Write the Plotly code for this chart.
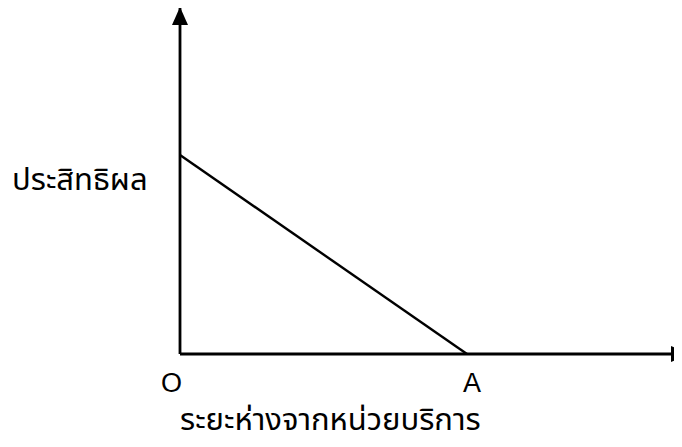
import plotly.graph_objects as go

# effectiveness falls linearly from the origin O to the point A
distance = [0, 1]
effectiveness = [1, 0]
tick_pos = [0, 1]
tick_labels = ["O", "A"]
x_title = "ระยะห่างจากหน่วยบริการ"
y_title = "ประสิทธิผล"

W, H = 682, 447
OFF = 8  # page body margin of the html page
# pixel positions of origin and one unit in the picture
ox, oy = 180 - OFF, 354 - OFF
ux, uy = 287, 199

x_range = [-ox / ux, (W - ox) / ux]
y_range = [-(H - oy) / uy, oy / uy]
x_tip = (689 - OFF - ox) / ux
y_tip = (oy - 7 + OFF) / uy

thai_font = "Noto Sans Thai, Noto Sans, sans-serif"

fig = go.Figure()
fig.add_trace(go.Scatter(x=distance, y=effectiveness, mode="lines",
                         line=dict(color="black", width=2.4), hoverinfo="skip"))

head = "M-8,-18 L8,-18 L0,0 Z"
head_x = "M-18,-8 L-18,8 L0,0 Z"
shapes = [
    dict(type="line", xref="x", yref="y", x0=0, y0=0, x1=x_tip, y1=0,
         line=dict(color="black", width=2.8)),
    dict(type="line", xref="x", yref="y", x0=0, y0=0, x1=0, y1=y_tip,
         line=dict(color="black", width=2.8)),
    dict(type="path", xref="x", yref="y", xsizemode="pixel", ysizemode="pixel",
         xanchor=0, yanchor=y_tip, path=head, fillcolor="black", line_width=0),
    dict(type="path", xref="x", yref="y", xsizemode="pixel", ysizemode="pixel",
         xanchor=x_tip, yanchor=0, path=head_x, fillcolor="black", line_width=0),
]

annotations = []
# O and A labels
for pos, lab, dx in zip(tick_pos, tick_labels, [-9, 5]):
    annotations.append(dict(x=pos, y=0, xref="x", yref="y", text=lab,
                            showarrow=False, yshift=-29, xshift=dx,
                            font=dict(family="Arial, Liberation Sans", size=27, color="black")))
annotations.append(dict(x=(330 - OFF) / W, y=1 - (420 - OFF) / H, xref="paper", yref="paper",
                        xanchor="center", yanchor="middle",
                        text=x_title, showarrow=False,
                        font=dict(family=thai_font, size=31, color="black")))
annotations.append(dict(x=(10 - OFF) / W, y=1 - (180 - OFF) / H, xref="paper", yref="paper",
                        xanchor="left", yanchor="middle", text=y_title, showarrow=False,
                        font=dict(family=thai_font, size=31, color="black")))

fig.update_layout(
    width=W, height=H,
    margin=dict(l=0, r=0, t=0, b=0),
    paper_bgcolor="white", plot_bgcolor="white",
    showlegend=False,
    xaxis=dict(range=x_range, visible=False, fixedrange=True),
    yaxis=dict(range=y_range, visible=False, fixedrange=True),
    shapes=shapes,
    annotations=annotations,
)

fig.write_html("out.html")
